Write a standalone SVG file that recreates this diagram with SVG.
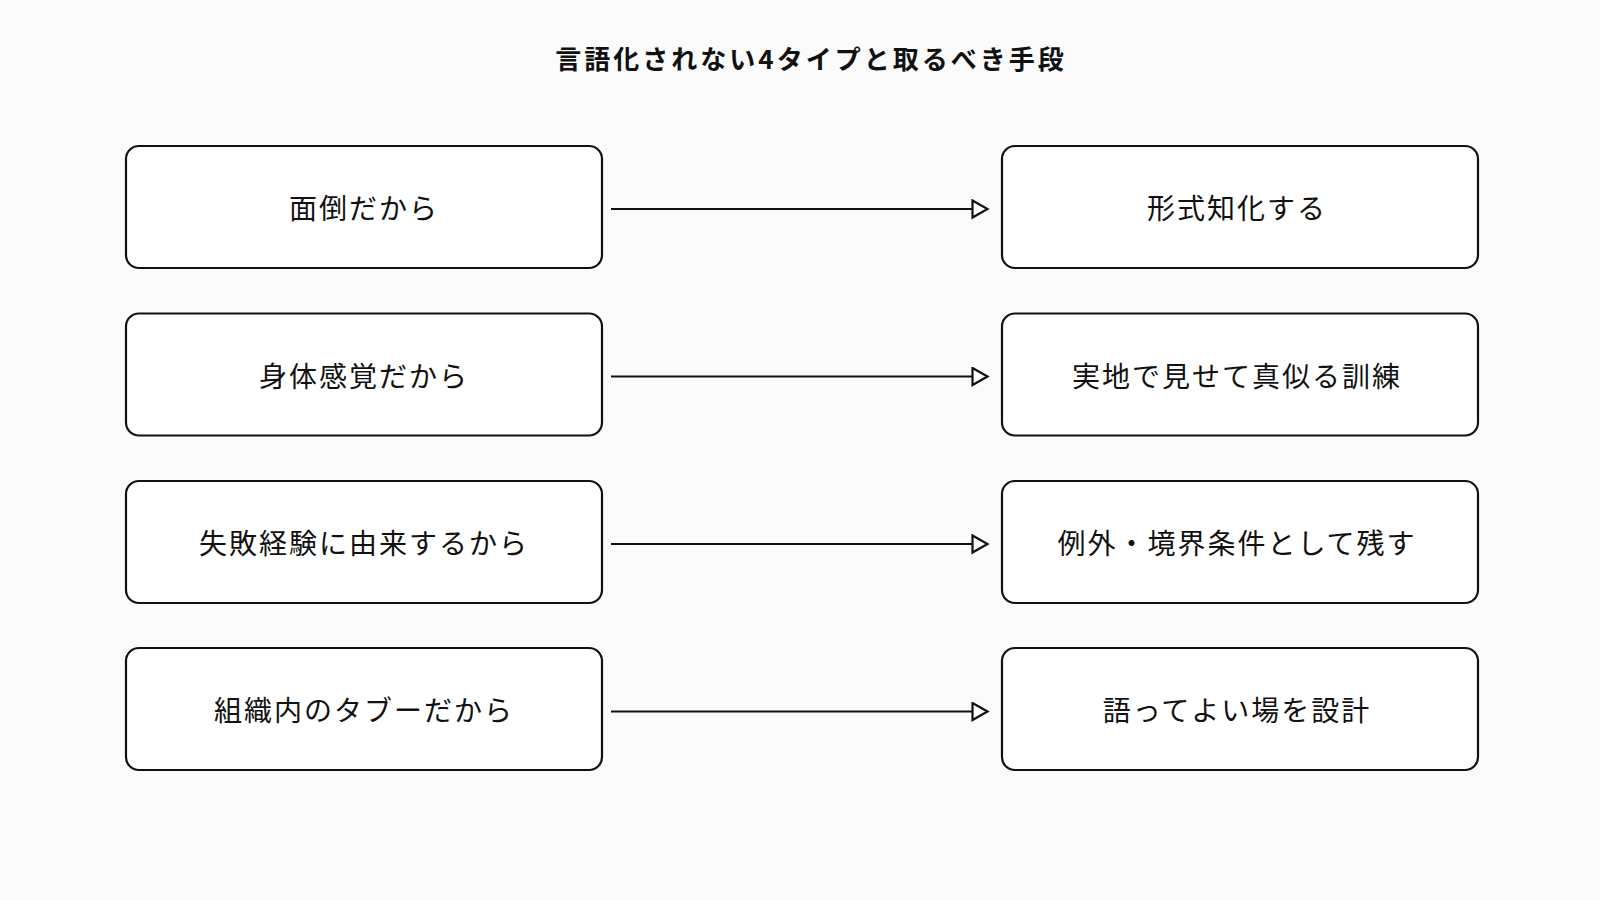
<svg xmlns="http://www.w3.org/2000/svg" width="1600" height="900" viewBox="0 0 1600 900">
<style>
.box{fill:#ffffff;stroke:#111;stroke-width:2.2}
.lbl{font-family:"Noto Sans CJK JP","Noto Sans",sans-serif;font-size:28px;font-weight:normal;letter-spacing:2px;fill:#111;text-anchor:middle;dominant-baseline:central}
.title{font-family:"Noto Sans CJK JP","Noto Sans",sans-serif;font-size:26px;font-weight:bold;letter-spacing:3px;fill:#111;text-anchor:middle;dominant-baseline:central}
.edge{stroke:#111;stroke-width:2.2;fill:none;marker-end:url(#arr)}
</style>
<defs>
<marker id="arr" markerUnits="userSpaceOnUse" markerWidth="22" markerHeight="24" refX="17" refY="10" orient="auto">
<path d="M1.5,1.5 L16.5,10 L1.5,18.5 Z" fill="#fff" stroke="#111" stroke-width="2.2" stroke-linejoin="miter"/>
</marker>
</defs>
<rect width="1600" height="900" fill="#fbfbfb"/>
<text class="title" x="811" y="57">言語化されない4タイプと取るべき手段</text>
<g id="connectors">
<line class="edge" x1="611" y1="209" x2="988" y2="209"/>
<line class="edge" x1="611" y1="376.5" x2="988" y2="376.5"/>
<line class="edge" x1="611" y1="544" x2="988" y2="544"/>
<line class="edge" x1="611" y1="711.5" x2="988" y2="711.5"/>
</g>
<g id="n1"><rect class="box" x="126" y="146" width="476" height="122" rx="13"/><text class="lbl" x="364" y="207">面倒だから</text></g>
<g id="n2"><rect class="box" x="126" y="313.5" width="476" height="122" rx="13"/><text class="lbl" x="364" y="374.5">身体感覚だから</text></g>
<g id="n3"><rect class="box" x="126" y="481" width="476" height="122" rx="13"/><text class="lbl" x="364" y="542">失敗経験に由来するから</text></g>
<g id="n4"><rect class="box" x="126" y="648" width="476" height="122" rx="13"/><text class="lbl" x="364" y="709">組織内のタブーだから</text></g>
<g id="m1"><rect class="box" x="1002" y="146" width="476" height="122" rx="13"/><text class="lbl" x="1237" y="207">形式知化する</text></g>
<g id="m2"><rect class="box" x="1002" y="313.5" width="476" height="122" rx="13"/><text class="lbl" x="1237" y="374.5">実地で見せて真似る訓練</text></g>
<g id="m3"><rect class="box" x="1002" y="481" width="476" height="122" rx="13"/><text class="lbl" x="1237" y="542">例外・境界条件として残す</text></g>
<g id="m4"><rect class="box" x="1002" y="648" width="476" height="122" rx="13"/><text class="lbl" x="1237" y="709">語ってよい場を設計</text></g>
</svg>
